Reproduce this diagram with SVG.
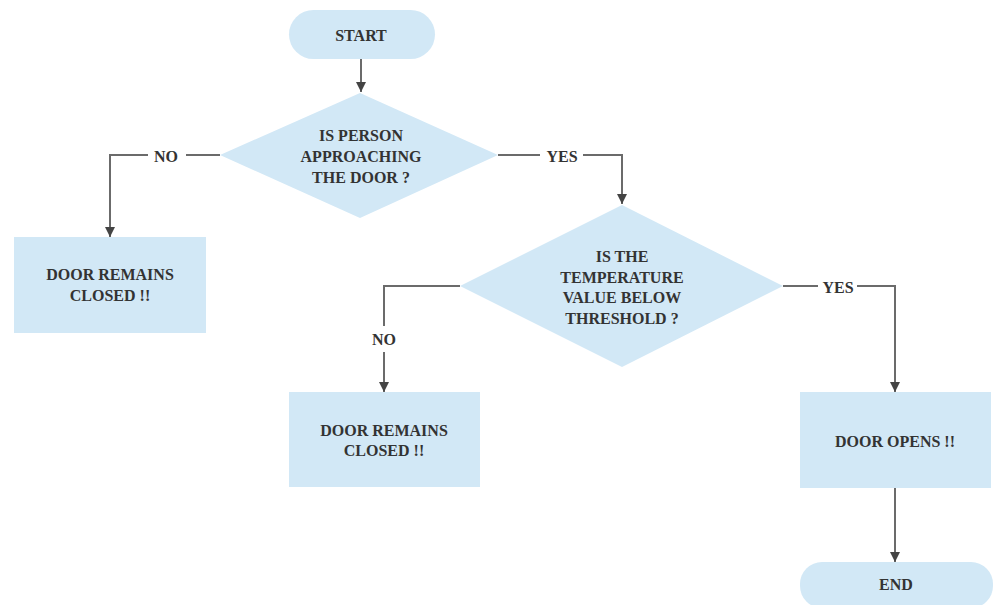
<svg xmlns="http://www.w3.org/2000/svg" width="998" height="605" viewBox="0 0 998 605">
  <defs>
    <marker id="arrow" viewBox="0 0 10 10" refX="10" refY="5" markerWidth="5" markerHeight="5" orient="auto" markerUnits="strokeWidth">
      <path d="M0,0 L10,5 L0,10 Z" fill="#444"/>
    </marker>
    <style>
      .shape { fill: #d2e8f6; stroke: none; }
      .edge { fill: none; stroke: #6b6b6b; stroke-width: 2; }
      .arr { marker-end: url(#arrow); }
      .txt, .lbl { font-family: "Liberation Serif", "DejaVu Serif", "Times New Roman", serif; font-weight: bold; font-size: 16px; fill: #333; text-anchor: middle; dominant-baseline: central; }
    </style>
  </defs>
  <rect width="998" height="605" fill="#ffffff"/>

  <!-- connectors -->
  <g id="connectors">
    <path class="edge arr" d="M361,59 V92"/>
    <path class="edge" d="M220,155 H186"/>
    <path class="edge arr" d="M148,155 H110 V237"/>
    <path class="edge" d="M498,155 H540"/>
    <path class="edge arr" d="M583,155 H622 V204"/>
    <path class="edge" d="M460,286 H384 V326"/>
    <path class="edge arr" d="M384,352 V392"/>
    <path class="edge" d="M783,286 H818"/>
    <path class="edge arr" d="M857,286 H895 V392"/>
    <path class="edge arr" d="M895,488 V562"/>
    <text class="lbl" x="166" y="156">NO</text>
    <text class="lbl" x="562" y="156">YES</text>
    <text class="lbl" x="384" y="339">NO</text>
    <text class="lbl" x="838" y="287">YES</text>
  </g>

  <g id="start">
    <rect class="shape" x="289" y="10" width="146" height="49" rx="24.5"/>
    <text class="txt" x="361" y="35">START</text>
  </g>

  <g id="decision-person">
    <polygon class="shape" points="360,93 498,155 360,218 220,155"/>
    <text class="txt" x="361" y="135">IS PERSON</text>
    <text class="txt" x="361" y="156">APPROACHING</text>
    <text class="txt" x="361" y="177">THE DOOR ?</text>
  </g>

  <g id="closed-1">
    <rect class="shape" x="14" y="237" width="192" height="96"/>
    <text class="txt" x="110" y="274">DOOR REMAINS</text>
    <text class="txt" x="110" y="295">CLOSED !!</text>
  </g>

  <g id="decision-temperature">
    <polygon class="shape" points="622,205 783,286 622,367 460,286"/>
    <text class="txt" x="622" y="256">IS THE</text>
    <text class="txt" x="622" y="277">TEMPERATURE</text>
    <text class="txt" x="622" y="297">VALUE BELOW</text>
    <text class="txt" x="622" y="318">THRESHOLD ?</text>
  </g>

  <g id="closed-2">
    <rect class="shape" x="289" y="392" width="191" height="95"/>
    <text class="txt" x="384" y="430">DOOR REMAINS</text>
    <text class="txt" x="384" y="450">CLOSED !!</text>
  </g>

  <g id="opens">
    <rect class="shape" x="800" y="392" width="191" height="96"/>
    <text class="txt" x="895" y="441">DOOR OPENS !!</text>
  </g>

  <g id="end">
    <rect class="shape" x="800" y="562" width="193" height="46" rx="22"/>
    <text class="txt" x="896" y="584">END</text>
  </g>
</svg>
